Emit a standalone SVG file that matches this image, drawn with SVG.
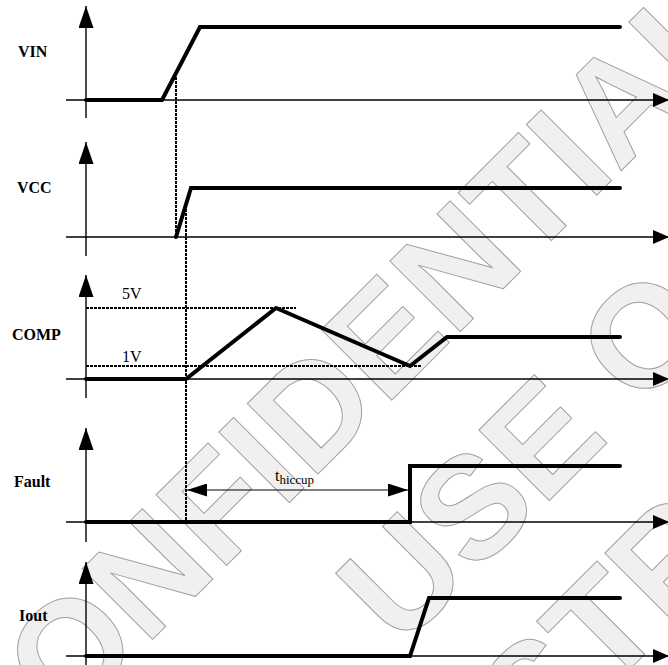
<svg xmlns="http://www.w3.org/2000/svg" width="668" height="665" viewBox="0 0 668 665">
<style>
.wm{font-family:"Liberation Sans",Arial,sans-serif;font-weight:bold;font-size:145px;fill:#f0f0f0;stroke:#a0a0a0;stroke-width:1}
.lbl{font-family:"Liberation Serif","Times New Roman",serif;font-weight:bold;font-size:16px;fill:#000}
.txt{font-family:"Liberation Serif","Times New Roman",serif;font-size:16px;fill:#000}
.axis{stroke:#000;stroke-width:1.4;fill:none}
.ya{marker-end:url(#ay)}
.xa{marker-end:url(#ax)}
.sig{stroke:#000;stroke-width:4;fill:none;stroke-linecap:round;stroke-linejoin:miter}
.dot{stroke:#000;stroke-width:2;fill:none;stroke-dasharray:3 1}
.dim{stroke:#000;stroke-width:1.2;fill:none;marker-start:url(#dl);marker-end:url(#dr)}
</style>
<defs>
<marker id="ay" markerUnits="userSpaceOnUse" markerWidth="22" markerHeight="15" refX="22" refY="7.5" orient="auto"><path d="M0,0 L22,7.5 L0,15 z" fill="#000"/></marker>
<marker id="ax" markerUnits="userSpaceOnUse" markerWidth="16" markerHeight="14" refX="16" refY="7" orient="auto"><path d="M0,0 L16,7 L0,14 z" fill="#000"/></marker>
<marker id="dr" markerUnits="userSpaceOnUse" markerWidth="20" markerHeight="13" refX="20" refY="6.5" orient="auto"><path d="M0,0 L20,6.5 L0,13 z" fill="#000"/></marker>
<marker id="dl" markerUnits="userSpaceOnUse" markerWidth="20" markerHeight="13" refX="0" refY="6.5" orient="auto"><path d="M20,0 L0,6.5 L20,13 z" fill="#000"/></marker>
</defs>
<rect width="668" height="665" fill="#fff"/>
<g id="watermark">
<text class="wm" transform="translate(-8,800) rotate(-45)">CONFIDENTIAL</text>
<text class="wm" transform="translate(400,650) rotate(-45)">USE O</text>
<text class="wm" transform="translate(435,864) rotate(-45)">DISTR</text>
</g>
<g id="connectors">
<line class="dot" x1="176" y1="77" x2="176" y2="237"/>
<line class="dot" x1="186" y1="205" x2="186" y2="522"/>
<line class="dim" x1="187" y1="490" x2="408" y2="490"/>
</g>
<g id="vin">
<text class="lbl" x="18" y="57">VIN</text>
<line class="axis ya" x1="86" y1="118" x2="86" y2="6"/>
<line class="axis xa" x1="66" y1="100" x2="669" y2="100"/>
<polyline class="sig" points="86,100 162,100 200,27 620,27"/>
</g>
<g id="vcc">
<text class="lbl" x="17" y="193">VCC</text>
<line class="axis ya" x1="86" y1="256" x2="86" y2="142"/>
<line class="axis xa" x1="66" y1="237" x2="669" y2="237"/>
<polyline class="sig" points="176,237 191,188 620,188"/>
</g>
<g id="comp">
<text class="lbl" x="12" y="340">COMP</text>
<line class="axis ya" x1="86" y1="398" x2="86" y2="275"/>
<line class="axis xa" x1="66" y1="379" x2="669" y2="379"/>
<line class="dot" x1="86" y1="308" x2="296" y2="308"/>
<line class="dot" x1="86" y1="366" x2="421" y2="366"/>
<text class="txt" x="122" y="299">5V</text>
<text class="txt" x="122" y="362">1V</text>
<polyline class="sig" points="86,379 186,379 276,308 410,366 447,337 620,337"/>
</g>
<g id="fault">
<text class="lbl" x="14" y="487">Fault</text>
<line class="axis ya" x1="86" y1="542" x2="86" y2="428"/>
<line class="axis xa" x1="66" y1="522" x2="669" y2="522"/>
<polyline class="sig" points="86,522 410,522 410,466 620,466"/>
<text class="txt" x="275" y="481" font-size="18">t<tspan font-size="13" dy="3">hiccup</tspan></text>
</g>
<g id="iout">
<text class="lbl" x="19" y="621">Iout</text>
<line class="axis ya" x1="86" y1="665" x2="86" y2="562"/>
<line class="axis xa" x1="66" y1="656" x2="669" y2="656"/>
<polyline class="sig" points="86,656 410,656 429,598 620,598"/>
</g>
</svg>
